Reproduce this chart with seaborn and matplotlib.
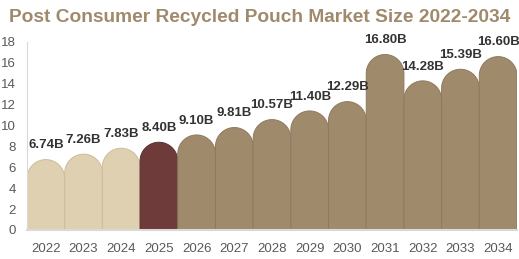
import numpy as np
import matplotlib
matplotlib.use("Agg")
import matplotlib.pyplot as plt
from matplotlib.patches import Polygon
import seaborn as sns

years = ["2022", "2023", "2024", "2025", "2026", "2027", "2028",
         "2029", "2030", "2031", "2032", "2033", "2034"]
values = [6.74, 7.26, 7.83, 8.40, 9.10, 9.81, 10.57,
          11.40, 12.29, 16.80, 14.28, 15.39, 16.60]
labels = [f"{v:.2f}B" for v in values]
bar_colors = ["#E0D0B2"] * 3 + ["#6E3A3A"] + ["#A08A6C"] * 9
edge_colors = ["#CDBC9C"] * 3 + ["#5A2E2E"] + ["#8E7A5E"] * 9

sns.set_style("white")
plt.rcParams["font.family"] = ["Liberation Sans", "DejaVu Sans"]

W, H = 519, 259
fig = plt.figure(figsize=(W / 100, H / 100), dpi=100)
left, right, bottom, top = 27, 517, 230, 42
ax = fig.add_axes([left / W, (H - bottom) / H, (right - left) / W, (bottom - top) / H])

sns.barplot(x=years, y=values, hue=years, palette=bar_colors, width=1,
            legend=False, ax=ax)
ax.set_xlim(-0.5, len(years) - 0.5)
ax.set_ylim(0, 18)
ax.set_yticks(range(0, 19, 2))

# convert a half bar width (in pixels) into y data units for a round top
ax_w_px = right - left
ax_h_px = bottom - top
bars = sorted(ax.patches, key=lambda p: p.get_x())
for i, p in enumerate(bars):
    x0, w, h = p.get_x(), p.get_width(), p.get_height()
    r_px = w * ax_w_px / (len(years)) / 2
    ry = r_px * 18 / ax_h_px
    base = h - ry
    t = np.linspace(np.pi, 0, 60)
    xc = x0 + w / 2
    arc = np.column_stack([xc + (w / 2) * np.cos(t), base + ry * np.sin(t)])
    verts = np.vstack([[x0, 0], [x0, base], arc, [x0 + w, base], [x0 + w, 0]])
    p.set_visible(False)
    ax.add_patch(Polygon(verts, closed=True, facecolor=bar_colors[i],
                         edgecolor=edge_colors[i], linewidth=0.7, zorder=2))
    ax.annotate(labels[i], (xc, h), xytext=(0, 6), textcoords="offset points",
                ha="center", va="bottom", fontsize=9.5, fontweight="bold",
                color="#333333", annotation_clip=False)

for s in ["top", "right"]:
    ax.spines[s].set_visible(False)
ax.spines["left"].set_color("#D9D9D9")
ax.spines["bottom"].set_color("#D9D9D9")
ax.spines["bottom"].set_linewidth(1.5)
ax.tick_params(axis="both", length=0, labelsize=9.5, labelcolor="#595959")
ax.tick_params(axis="x", pad=9)
ax.tick_params(axis="y", pad=8)
ax.set_xlabel("")
ax.set_ylabel("")

fig.text(0.5, 1 - 18 / H, "Post Consumer Recycled Pouch Market Size 2022-2034",
         ha="center", va="center", fontsize=13.8, fontweight="bold", color="#A08A6C")

fig.savefig("out.png", dpi=100)
